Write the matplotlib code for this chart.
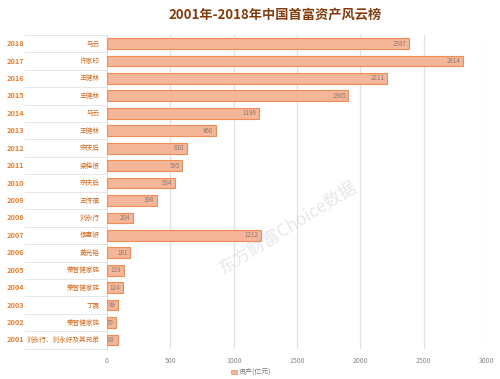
import numpy as np
import matplotlib
matplotlib.use("Agg")
import matplotlib.pyplot as plt
import matplotlib.transforms as mtransforms

plt.rcParams['font.family'] = ['Noto Sans CJK SC', 'DejaVu Sans']

# dados
anos = ['2018', '2017', '2016', '2015', '2014', '2013', '2012', '2011', '2010',
        '2009', '2008', '2007', '2006', '2005', '2004', '2003', '2002', '2001']
nomes = ['马云', '许家印', '王健林', '王健林', '马云', '王健林', '宗庆后', '梁稳根', '宗庆后',
         '王传福', '刘永行', '杨惠妍', '黄光裕', '荣智健家族', '荣智健家族', '丁磊',
         '荣智健家族', '刘永行、刘永好及其兄弟']
valores = [2387, 2814, 2211, 1905, 1198, 860, 630, 595, 534,
           396, 204, 1212, 181, 133, 124, 89, 70, 83]
ticks_x = [0, 500, 1000, 1500, 2000, 2500, 3000]

fig = plt.figure(figsize=(5, 3.79), dpi=100)
ax = fig.add_axes([0.214, 0.080, 0.760, 0.828])

y = np.arange(len(anos))
ax.barh(y, valores, height=0.62, color='#f5b598', edgecolor='#f08c55',
        linewidth=0.8, zorder=3)

for i, v in enumerate(valores):
    ax.text(v - 20, i, str(v), ha='right', va='center', fontsize=4.5,
            color='#8c7a70', zorder=4)

ax.set_ylim(len(anos) - 0.5, -0.5)
ax.set_xlim(0, 3000)
ax.set_xticks(ticks_x)
ax.set_xticklabels([str(t) for t in ticks_x], fontsize=5, color='#888888')
ax.tick_params(axis='x', length=0, pad=6)
ax.set_yticks([])
ax.grid(axis='x', color='#e2e2e2', linewidth=0.9, zorder=0)
for s in ['top', 'right', 'bottom']:
    ax.spines[s].set_visible(False)
ax.spines['left'].set_color('#dddddd')
ax.spines['left'].set_linewidth(0.8)

# rotulos de categoria (ano + nome)
trans = mtransforms.blended_transform_factory(fig.transFigure, ax.transData)
for i in range(len(anos)):
    ax.text(0.014, i, anos[i], transform=trans, ha='left', va='center',
            fontsize=5.3, fontweight='bold', color='#ee7d31')
    ax.text(0.200, i, nomes[i], transform=trans, ha='right', va='center',
            fontsize=4.8, color='#d2691e')

# linhas separadoras
for i in range(len(anos) + 1):
    yy = i - 0.5
    ax.plot([0.05, 0.214], [yy, yy], transform=trans, color='#e6e6e6',
            linewidth=0.7, clip_on=False)

fig.text(0.55, 0.963, '2001年-2018年中国首富资产风云榜', ha='center', va='center',
         fontsize=9.5, fontweight='bold', color='#843c0c')

# legenda
fig.patches.append(plt.Rectangle((0.462, 0.012), 0.012, 0.012, transform=fig.transFigure,
                                 facecolor='#f5b598', edgecolor='#f08c55', linewidth=0.5))
fig.text(0.478, 0.018, '资产(亿元)', ha='left', va='center', fontsize=5, color='#777777')

# marca d'agua
fig.text(0.576, 0.40, '东方财富Choice数据', ha='center', va='center', fontsize=12.5,
         rotation=32, color='#bbbbbb', alpha=0.35)

fig.savefig('out.png', dpi=100, facecolor='white')
